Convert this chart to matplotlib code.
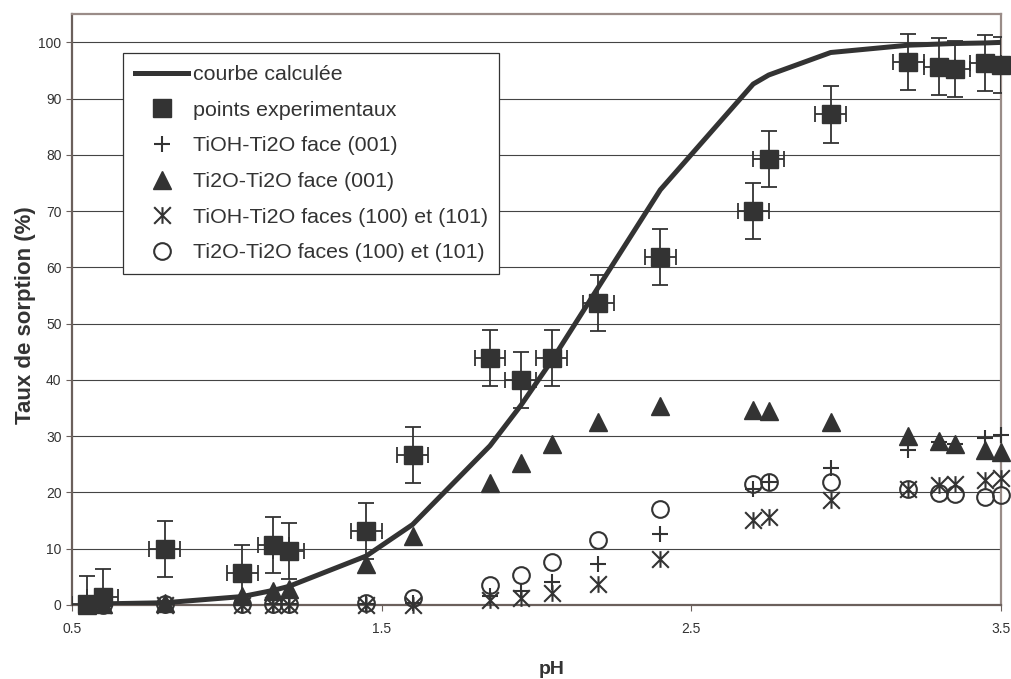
import numpy as np
import matplotlib.pyplot as plt
from matplotlib.path import Path

plt.rcParams['font.family'] = ['Liberation Sans', 'DejaVu Sans']

# pH des points
ph = [0.55, 0.6, 0.8, 1.05, 1.15, 1.2, 1.45, 1.6, 1.85, 1.95, 2.05,
      2.2, 2.4, 2.7, 2.75, 2.95, 3.2, 3.3, 3.35, 3.45, 3.5]

# courbe calculee
calc = [0.1, 0.2, 0.4, 1.5, 2.6, 3.3, 8.7, 14.3, 28.3, 35.5, 43.5,
        56.5, 73.8, 92.6, 94.2, 98.2, 99.5, 99.7, 99.8, 99.9, 100]

# points experimentaux
exp = [0.2, 1.4, 9.9, 5.7, 10.6, 9.6, 13.1, 26.7, 43.9, 40.0, 43.9,
       53.7, 61.8, 70.0, 79.3, 87.2, 96.5, 95.7, 95.3, 96.3, 96.0]
err_y = 5
err_x = 0.05

# modeles
tioh_001 = [0.0, 0.0, 0.2, 0.2, 0.2, 0.2, 0.2, 0.3, 1.6, 2.5, 4.1,
            7.3, 12.6, 20.7, 21.9, 24.4, 27.6, 29.0, 28.7, 29.6, 30.2]
ti2o_001 = [0.0, 0.1, 0.3, 1.6, 2.4, 2.8, 7.3, 12.2, 21.6, 25.3, 28.7,
            32.5, 35.3, 34.7, 34.4, 32.5, 30.0, 29.1, 28.7, 27.5, 27.2]
tioh_100 = [0.0, 0.0, 0.0, 0.0, 0.0, 0.0, 0.0, 0.0, 0.9, 1.2, 2.1,
            3.8, 8.1, 15.1, 15.7, 18.6, 20.7, 21.3, 21.5, 22.2, 22.6]
ti2o_100 = [0.0, 0.0, 0.1, 0.1, 0.1, 0.1, 0.3, 1.2, 3.6, 5.4, 7.7,
            11.5, 17.0, 21.5, 21.9, 21.9, 20.7, 19.9, 19.8, 19.2, 19.5]

dark = '#333333'
asterisk = Path([(-1, -1), (1, 1), (-1, 1), (1, -1), (0, -1), (0, 1)],
                [Path.MOVETO, Path.LINETO, Path.MOVETO, Path.LINETO,
                 Path.MOVETO, Path.LINETO])

fig = plt.figure(figsize=(10.12, 6.79), dpi=100)
ax = fig.add_axes([0.0711, 0.109, 0.918, 0.870])

l_calc, = ax.plot(ph, calc, color=dark, lw=3.6, zorder=3)
ax.errorbar(ph, exp, yerr=err_y, xerr=err_x, fmt='none', ecolor=dark,
            elinewidth=1.3, capsize=5.5, capthick=1.3, zorder=4)
l_exp, = ax.plot(ph, exp, 's', color=dark, ms=12.5, zorder=4, clip_on=False)
l_p, = ax.plot(ph, tioh_001, '+', color=dark, ms=12, mew=1.5, zorder=5,
               clip_on=False)
l_t, = ax.plot(ph, ti2o_001, '^', color=dark, ms=12.5, zorder=5,
               clip_on=False)
l_a, = ax.plot(ph, tioh_100, ls='none', marker=asterisk, color=dark, ms=12,
               mew=1.5, zorder=5, clip_on=False)
l_o, = ax.plot(ph, ti2o_100, 'o', mfc='none', mec=dark, ms=12, mew=1.5,
               zorder=5, clip_on=False)

ax.set_xlim(0.5, 3.5)
ax.set_ylim(0, 105)
ax.set_xticks([0.5, 1.5, 2.5, 3.5])
ax.set_xticklabels(['0.5', '1.5', '2.5', '3.5'])
ax.set_yticks(np.arange(0, 101, 10))
ax.tick_params(labelsize=10, labelcolor=dark, color='#6b605c', length=4,
               direction='out')
ax.tick_params(axis='x', pad=8)
ax.grid(axis='y', color='#444444', lw=0.8)
ax.set_axisbelow(True)
for side in ['left', 'bottom']:
    ax.spines[side].set_color('#6b605c')
    ax.spines[side].set_linewidth(1.6)
for side in ['top', 'right']:
    ax.spines[side].set_color('#9a8c88')
    ax.spines[side].set_linewidth(1.6)

ax.set_xlabel('pH', fontsize=14, fontweight='bold', color=dark)
ax.set_ylabel('Taux de sorption (%)', fontsize=16, fontweight='bold',
              color=dark)
ax.xaxis.set_label_coords(0.516, -0.094)
ax.yaxis.set_label_coords(-0.039, 0.49)

handles = [l_calc, l_exp, l_p, l_t, l_a, l_o]
labels = ['courbe calculée', 'points experimentaux', 'TiOH-Ti2O face (001)',
          'Ti2O-Ti2O face (001)', 'TiOH-Ti2O faces (100) et (101)',
          'Ti2O-Ti2O faces (100) et (101)']
leg = ax.legend(handles, labels, loc='upper left',
                bbox_to_anchor=(0.055, 0.934), borderaxespad=0,
                fontsize=15.4, frameon=True, fancybox=False,
                edgecolor='#333333', handlelength=2.5, handletextpad=0.2,
                labelspacing=0.78, borderpad=0.55, framealpha=1)
leg.get_frame().set_linewidth(0.9)
for t in leg.get_texts():
    t.set_color(dark)

fig.savefig('out.png', dpi=100)
